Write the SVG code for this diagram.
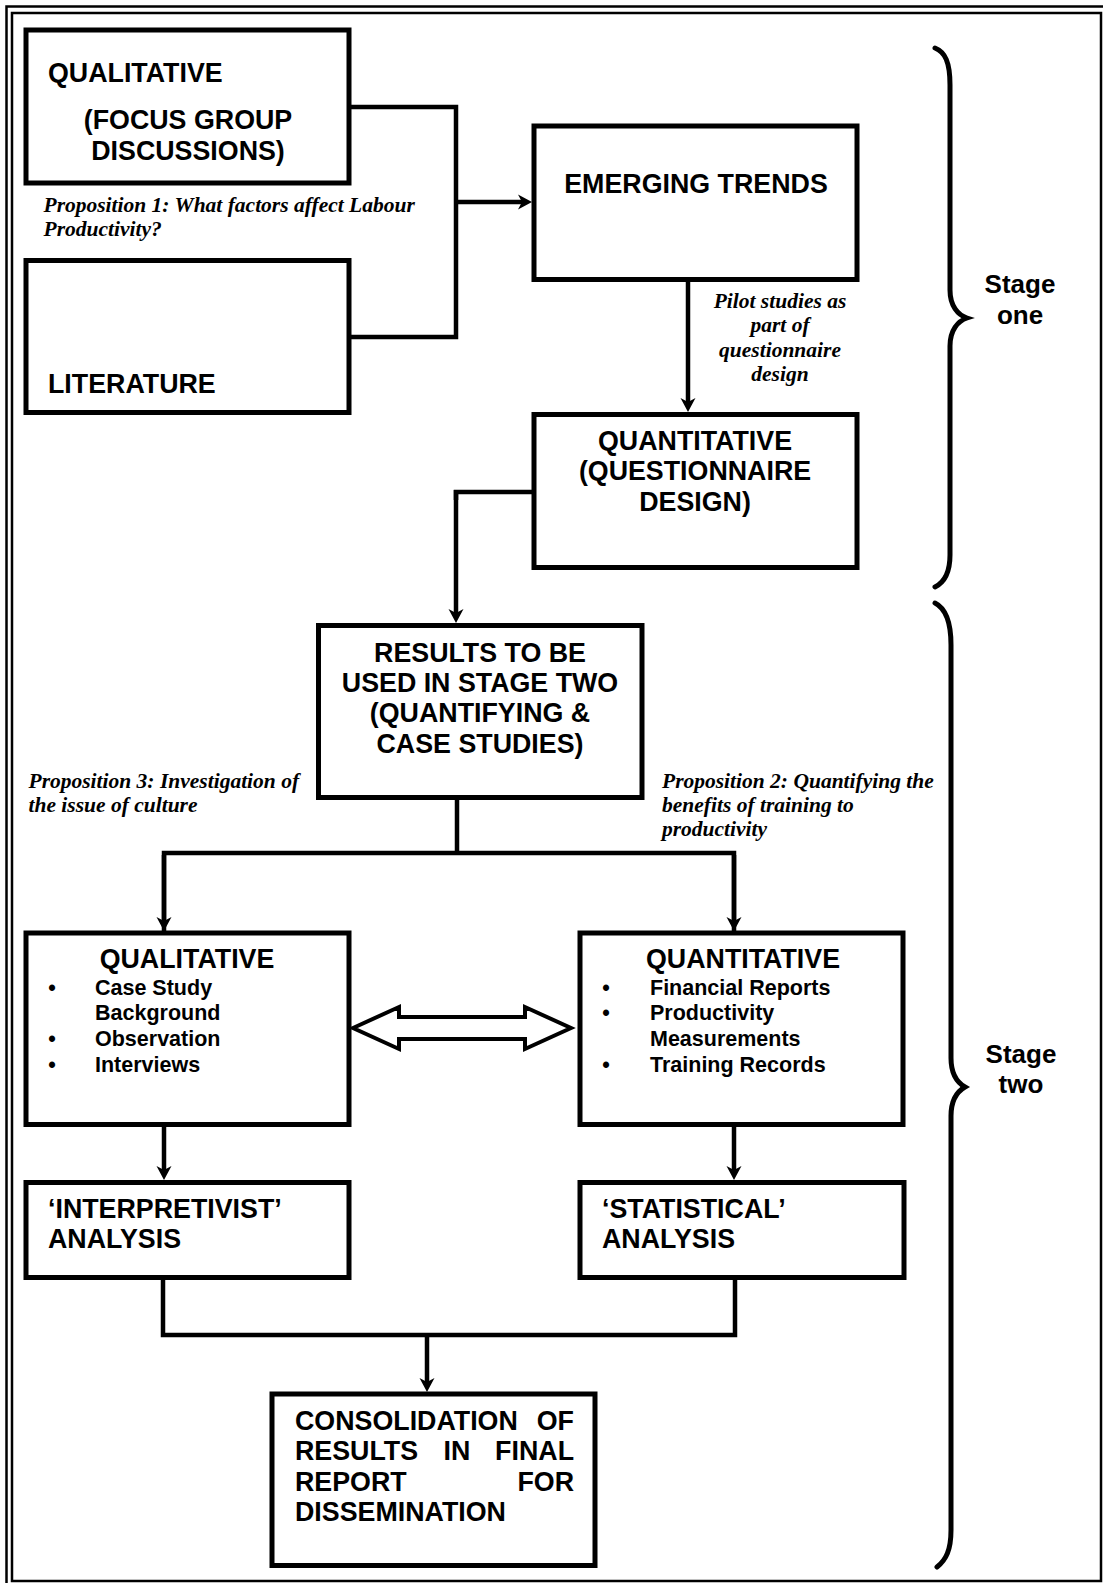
<svg xmlns="http://www.w3.org/2000/svg" width="1103" height="1583" viewBox="0 0 1103 1583">
<style>
.box{fill:#fff;stroke:#000;stroke-width:5}
.h{font-family:"Liberation Sans",Arial,sans-serif;font-weight:bold;font-size:26.8px;fill:#000}
.st{font-family:"Liberation Sans",Arial,sans-serif;font-weight:bold;font-size:26px;fill:#000}
.s{font-family:"Liberation Sans",Arial,sans-serif;font-weight:bold;font-size:21.5px;fill:#000}
.it{font-family:"Liberation Serif","Times New Roman",serif;font-weight:bold;font-style:italic;font-size:21.5px;fill:#000}
.c{text-anchor:middle}
.e{text-anchor:end}
.ln{fill:none;stroke:#000;stroke-width:4.5}
.arr{marker-end:url(#ah)}
.brace{fill:none;stroke:#000;stroke-width:5;stroke-linecap:round}
.frame{fill:none;stroke:#000}
</style>
<defs>
<marker id="ah" viewBox="-7 -8 16 16" refX="0" refY="0" markerWidth="16" markerHeight="16" markerUnits="userSpaceOnUse" orient="auto" overflow="visible">
<path d="M8,0 L-6,-7.5 L-2,0 L-6,7.5 z" fill="#000"/>
</marker>
</defs>
<rect width="1103" height="1583" fill="#fff"/>
<g id="frame">
<rect class="frame" x="6.5" y="6.5" width="1120" height="1620" stroke-width="2.5"/>
<rect class="frame" x="12" y="13" width="1089" height="1568" stroke-width="2.5"/>
</g>
<g id="connectors">
<path class="ln" d="M349,107 H456 V337 H349"/>
<path class="ln arr" d="M456,202 H524"/>
<path class="ln arr" d="M688,280 V404"/>
<path class="ln" d="M534,492 H456 V500"/>
<path class="ln arr" d="M456,490 V615"/>
<path class="ln" d="M457,798 V853"/>
<path class="ln" d="M164,931 V853 H734 V931"/>
<path class="ln arr" d="M164,855 V923"/>
<path class="ln arr" d="M734,855 V923"/>
<path class="ln arr" d="M164,1125 V1172"/>
<path class="ln arr" d="M734,1125 V1172"/>
<path class="ln" d="M163,1278 V1335 H735 V1278"/>
<path class="ln arr" d="M427,1335 V1384"/>
<path id="double-arrow" d="M353,1028 L399,1007 L399,1017 L525,1017 L525,1007 L571,1028 L525,1049 L525,1039 L399,1039 L399,1049 Z" fill="#fff" stroke="#000" stroke-width="4"/>
</g>
<g id="braces">
<path class="brace" d="M935,48 C945,52 950,62 950,85 L950,290 C950,306 958,315 967,318 C958,321 950,330 950,346 L950,555 C950,572 945,582 935,587"/>
<path class="brace" d="M935,603 C945,608 951,620 951,645 L951,1058 C951,1074 958,1083 965,1087 C958,1091 951,1100 951,1116 L951,1530 C951,1550 946,1560 937,1567"/>
<text class="st c" x="1020" y="293">Stage</text>
<text class="st c" x="1020" y="324">one</text>
<text class="st c" x="1021" y="1063">Stage</text>
<text class="st c" x="1021" y="1093">two</text>
</g>
<g id="n-qual-fg">
<rect class="box" x="26" y="30" width="323" height="153"/>
<text class="h" x="48" y="82">QUALITATIVE</text>
<text class="h c" x="188" y="129">(FOCUS GROUP</text>
<text class="h c" x="188" y="160">DISCUSSIONS)</text>
</g>
<g id="n-literature">
<rect class="box" x="26" y="260.5" width="323" height="152"/>
<text class="h" x="48" y="393">LITERATURE</text>
</g>
<g id="n-emerging">
<rect class="box" x="534" y="126" width="323" height="153.5"/>
<text class="h c" x="696" y="193">EMERGING TRENDS</text>
</g>
<g id="n-quant-q">
<rect class="box" x="534" y="414.5" width="323" height="153"/>
<text class="h c" x="695" y="450">QUANTITATIVE</text>
<text class="h c" x="695" y="480">(QUESTIONNAIRE</text>
<text class="h c" x="695" y="511">DESIGN)</text>
</g>
<g id="n-results">
<rect class="box" x="318.5" y="625.5" width="323.5" height="172"/>
<text class="h c" x="480" y="662">RESULTS TO BE</text>
<text class="h c" x="480" y="692">USED IN STAGE TWO</text>
<text class="h c" x="480" y="722">(QUANTIFYING &amp;</text>
<text class="h c" x="480" y="753">CASE STUDIES)</text>
</g>
<g id="n-qual-cs">
<rect class="box" x="26" y="933" width="323" height="191.5"/>
<text class="h c" x="187" y="968">QUALITATIVE</text>
<text class="s c" x="52" y="995">•</text>
<text class="s" x="95" y="995">Case Study</text>
<text class="s" x="95" y="1020">Background</text>
<text class="s c" x="52" y="1046">•</text>
<text class="s" x="95" y="1046">Observation</text>
<text class="s c" x="52" y="1072">•</text>
<text class="s" x="95" y="1072">Interviews</text>
</g>
<g id="n-quant-fin">
<rect class="box" x="580" y="933" width="323" height="191.5"/>
<text class="h c" x="743" y="968">QUANTITATIVE</text>
<text class="s c" x="606" y="995">•</text>
<text class="s" x="650" y="995">Financial Reports</text>
<text class="s c" x="606" y="1020">•</text>
<text class="s" x="650" y="1020">Productivity</text>
<text class="s" x="650" y="1046">Measurements</text>
<text class="s c" x="606" y="1072">•</text>
<text class="s" x="650" y="1072">Training Records</text>
</g>
<g id="n-interp">
<rect class="box" x="26" y="1182.5" width="323" height="95"/>
<text class="h" x="48" y="1218">‘INTERPRETIVIST’</text>
<text class="h" x="48" y="1248">ANALYSIS</text>
</g>
<g id="n-stat">
<rect class="box" x="580" y="1182.5" width="324" height="95"/>
<text class="h" x="602" y="1218">‘STATISTICAL’</text>
<text class="h" x="602" y="1248">ANALYSIS</text>
</g>
<g id="n-consol">
<rect class="box" x="272" y="1394" width="323" height="171.5"/>
<text class="h" x="295" y="1430">CONSOLIDATION</text>
<text class="h e" x="574" y="1430">OF</text>
<text class="h" x="295" y="1460">RESULTS</text>
<text class="h c" x="457" y="1460">IN</text>
<text class="h e" x="574" y="1460">FINAL</text>
<text class="h" x="295" y="1491">REPORT</text>
<text class="h e" x="574" y="1491">FOR</text>
<text class="h" x="295" y="1521">DISSEMINATION</text>
</g>
<g id="labels">
<text class="it" x="43.5" y="212">Proposition 1: What factors affect Labour</text>
<text class="it" x="43.5" y="236">Productivity?</text>
<text class="it c" x="780" y="308">Pilot studies as</text>
<text class="it c" x="780" y="332">part of</text>
<text class="it c" x="780" y="357">questionnaire</text>
<text class="it c" x="780" y="381">design</text>
<text class="it" x="28.5" y="788">Proposition 3: Investigation of</text>
<text class="it" x="28.5" y="812">the issue of culture</text>
<text class="it" x="662" y="788">Proposition 2: Quantifying the</text>
<text class="it" x="662" y="812">benefits of training to</text>
<text class="it" x="662" y="836">productivity</text>
</g>
</svg>
